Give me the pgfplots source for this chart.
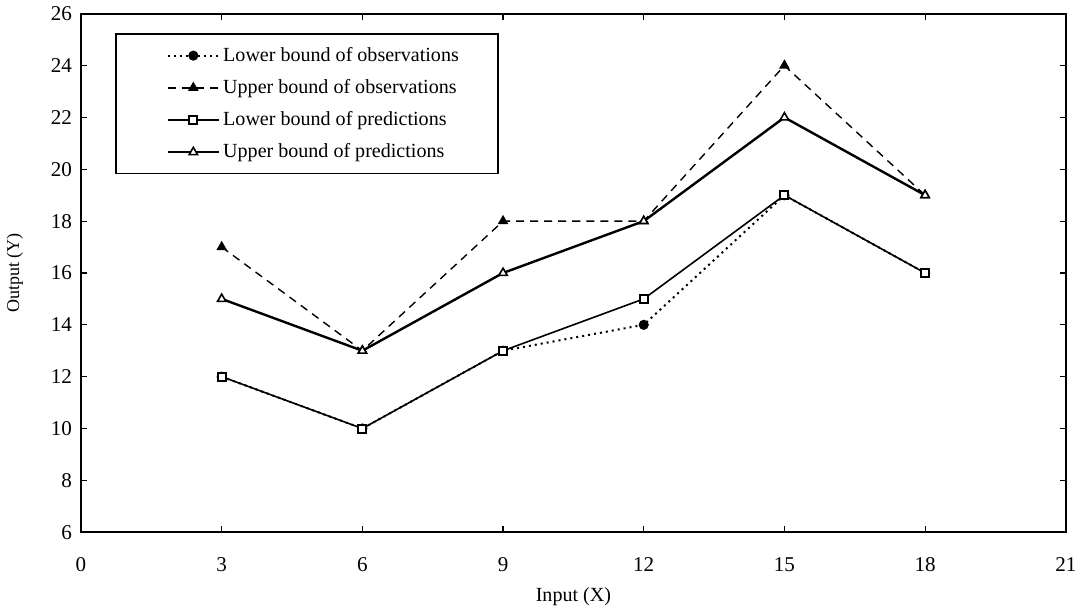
\documentclass[border=0pt]{standalone}
\usepackage{fontspec}
\setmainfont{Liberation Serif}
\usepackage{pgfplots}
\pgfplotsset{compat=1.18}

\begin{document}
\begin{tikzpicture}
\begin{axis}[
  scale only axis,
  width=491pt, height=258.5pt,
  xmin=0, xmax=21, ymin=6, ymax=26,
  xtick={0,3,...,21}, ytick={6,8,...,26},
  tick align=inside,
  major tick length=3pt,
  axis line style={line width=0.9pt},
  tick style={black, line width=0.6pt},
  /pgf/number format/assume math mode=true,
  ticklabel style={font=\fontsize{10.5}{12}\selectfont},
  xticklabel style={yshift=-9pt},
  yticklabel style={xshift=-1pt},
  xlabel={Input (X)},
  ylabel={Output (Y)},
  xlabel style={font=\fontsize{10}{12}\selectfont, yshift=-1pt},
  ylabel style={font=\fontsize{9}{11}\selectfont, yshift=7pt},
  legend style={at={(0.035,0.962)}, anchor=north west,
    font=\fontsize{10}{12}\selectfont, draw=black, line width=0.6pt,
    row sep=4.5pt, inner xsep=18pt, inner ysep=5pt,
    nodes={inner sep=1.5pt}},
  legend cell align=left,
  legend image code/.code={
    \path (0cm,0cm);
    \draw[mark repeat=2, mark phase=2, #1]
      plot coordinates {(0.25cm,0cm) (0.7cm,0cm) (1.15cm,0cm)};},
]
% lower bound of observations
\addplot[black, line width=1pt, dotted, mark=*, mark size=2pt,
  mark options={solid, fill=black}] coordinates {
  (3,12) (6,10) (9,13) (12,14) (15,19) (18,16)
};
\addlegendentry{Lower bound of observations}

% upper bound of observations
\addplot[black, line width=0.7pt, dash pattern=on 4pt off 3pt, mark=triangle*, mark size=2.4pt,
  mark options={solid, fill=black}] coordinates {
  (3,17) (6,13) (9,18) (12,18) (15,24) (18,19)
};
\addlegendentry{Upper bound of observations}

% lower bound of predictions
\addplot[black, line width=0.8pt, mark=square*, mark size=2pt,
  mark options={solid, fill=white, line width=1pt}] coordinates {
  (3,12) (6,10) (9,13) (12,15) (15,19) (18,16)
};
\addlegendentry{Lower bound of predictions}

% upper bound of predictions
\addplot[black, line width=1.2pt, mark=triangle*, mark size=2.4pt,
  mark options={solid, fill=white, line width=0.8pt}] coordinates {
  (3,15) (6,13) (9,16) (12,18) (15,22) (18,19)
};
\addlegendentry{Upper bound of predictions}
\end{axis}
\end{tikzpicture}
\end{document}
